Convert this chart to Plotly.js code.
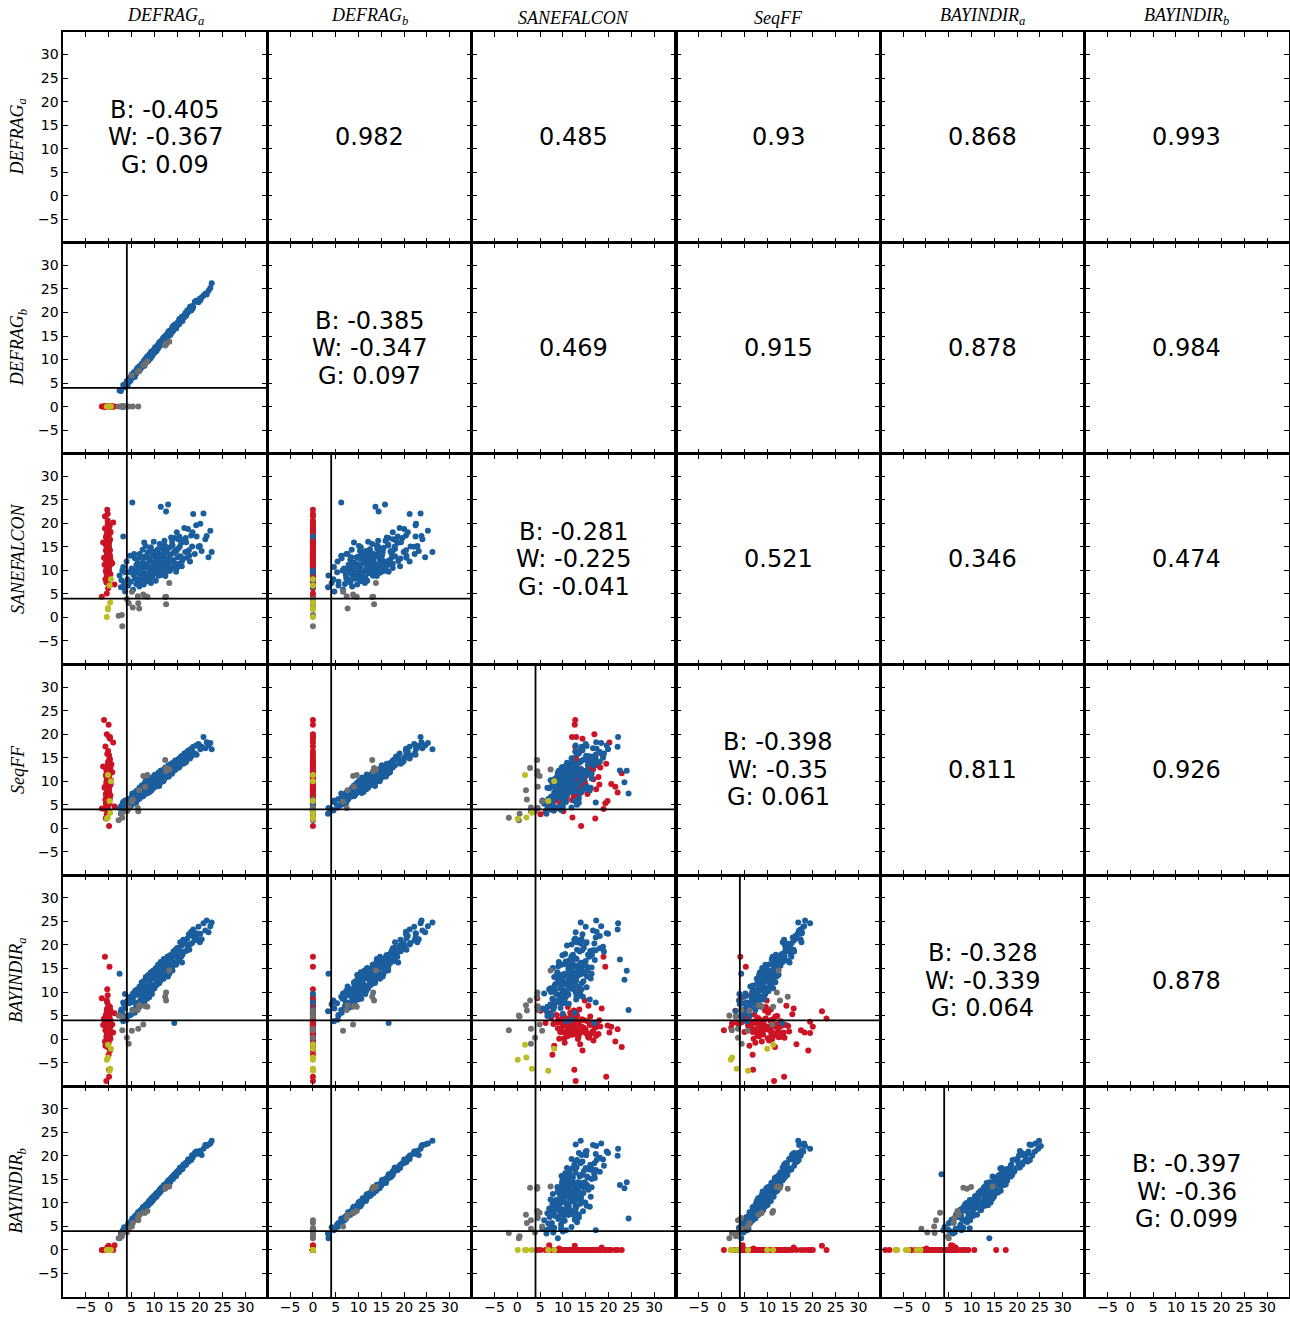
<!DOCTYPE html>
<html>
<head>
<meta charset="utf-8">
<script src="https://cdn.plot.ly/plotly-3.0.1.min.js"></script>
<style>html,body{margin:0;padding:0;background:#fff;}#chart{width:1290px;height:1319px;}</style>
</head>
<body>
<div id="chart"></div>
<script>
// ---------- variable names / labels ----------
const varLabels = ['<i>DEFRAG<sub>a</sub></i>', '<i>DEFRAG<sub>b</sub></i>', '<i>SANEFALCON</i>', '<i>SeqFF</i>', '<i>BAYINDIR<sub>a</sub></i>', '<i>BAYINDIR<sub>b</sub></i>'];
const tickValues = [-5, 0, 5, 10, 15, 20, 25, 30];
const threshold = 4;

// ---------- diagonal and upper-triangle texts ----------
const diagB = ['-0.405', '-0.385', '-0.281', '-0.398', '-0.328', '-0.397'];
const diagW = ['-0.367', '-0.347', '-0.225', '-0.35', '-0.339', '-0.36'];
const diagG = ['0.09', '0.097', '-0.041', '0.061', '0.064', '0.099'];
const corrRow1 = ['0.982', '0.485', '0.93', '0.868', '0.993'];
const corrRow2 = ['0.469', '0.915', '0.878', '0.984'];
const corrRow3 = ['0.521', '0.346', '0.474'];
const corrRow4 = ['0.811', '0.926'];
const corrRow5 = ['0.878'];

// ---------- blue samples ----------
const blueDEFRAGa = [
2.4,2.7,3.2,3.4,3.6,3.95,4.15,4.3,4.55,4.7,
4.85,5.05,5.2,5.35,5.5,5.75,5.8,6.05,6.1,6.25,
6.3,6.45,6.6,6.75,6.8,6.95,7.1,7.25,7.3,7.45,
7.5,7.55,7.7,7.85,7.9,8.05,8.1,8.15,8.3,8.45,
8.5,8.55,8.7,8.85,8.9,8.95,9.1,9.25,9.3,9.4,
9.45,9.6,9.75,9.8,9.9,10.05,10.1,10.2,10.35,10.4,
10.5,10.55,10.7,10.85,10.9,10.95,11.1,11.2,11.35,11.4,
11.45,11.6,11.75,11.8,11.9,12.05,12.1,12.25,12.4,12.45,
12.6,12.75,12.8,12.9,13.05,13.1,13.3,13.45,13.5,13.7,
13.8,13.95,14.1,14.2,14.4,14.55,14.6,14.8,14.95,15.1,
15.2,15.45,15.5,15.7,15.9,16.05,16.2,16.35,16.6,16.8,
17.0,17.25,17.4,17.6,17.85,18.1,18.3,18.55,18.9,19.2,
19.3,19.7,20.1,20.4,20.8,21.2,21.5,21.9,22.3,22.6,
6.9,7.6,8.3,8.9,9.6,10.2,10.9,11.4,12.3,13.2,
5.3,7.9,9.2,9.9,10.6,11.2,11.9,12.6,14.0,15.6,
3.2,3.0,3.6,2.8,3.3,
5.6,6.6,7.3,7.8,8.4,8.8,9.3,9.7,10.3,10.8,
11.1,11.6,12.0,12.5,12.9,13.4,13.9,14.3,14.8,15.3,
6.2,7.0,7.7,8.6,9.0,9.5,10.0,10.6,11.3,11.8,
12.3,13.0,13.6,14.0,15.0,16.1,16.9,17.7,18.4,20.0];
const blueDEFRAGb = [
3.4,3.3,4.6,4.1,4.7,5.4,4.5,5.6,5.3,6.2,
5.6,6.8,6.2,6.6,7.2,6.3,7.3,7.0,7.8,7.8,
8.2,7.7,8.0,8.6,7.6,8.6,8.2,9.0,9.1,8.5,
8.8,9.1,9.7,8.7,9.6,9.2,10.1,10.1,9.5,10.6,
10.1,10.7,9.7,10.6,10.3,11.1,11.1,10.5,11.6,10.9,
11.7,10.8,11.7,11.3,12.1,12.1,11.5,12.6,11.9,12.3,
11.8,12.7,12.3,13.1,13.1,12.5,13.6,13.0,13.3,13.9,
13.7,13.3,14.1,14.1,13.6,14.7,14.0,14.3,15.0,14.0,
14.4,15.3,15.3,14.7,15.8,15.1,15.5,16.1,15.2,16.2,
16.5,16.5,16.0,17.2,16.6,16.9,17.5,16.6,17.5,17.3,
18.0,17.5,18.6,18.0,18.5,19.1,18.2,19.2,19.0,19.9,
19.3,20.5,20.0,20.4,21.2,20.4,21.4,21.2,22.3,22.5,
22.5,22.2,22.6,23.2,23.6,24.0,23.8,24.6,25.2,26.2,
8.1,9.1,10.4,10.0,11.6,11.7,13.2,13.7,14.0,16.0,
6.5,9.9,10.3,11.9,12.2,13.6,14.3,14.3,16.9,17.9,
0,0,0,0,0,
7.3,7.7,9.1,9.0,10.3,10.2,11.4,11.3,12.4,12.5,
13.3,13.4,14.6,14.3,15.1,15.8,15.9,16.9,17.0,17.6,
7.5,8.4,9.3,10.4,10.3,11.5,11.8,12.6,13.0,14.0,
14.3,15.3,15.4,16.5,17.5,18.7,19.6,20.5,20.8,22.9];
const blueSANEFALCON = [
8.9,6.4,10.7,7.3,5.5,11.9,8.1,6.8,9.6,13.1,
7.6,10.4,24.4,5.9,9.0,12.6,8.3,7.1,11.2,9.5,
12.3,8.0,10.1,6.6,13.5,9.2,7.4,11.0,9.9,14.4,
8.6,11.7,7.0,10.5,12.8,9.3,15.2,8.1,10.9,7.7,
11.3,13.8,9.0,7.9,10.6,12.1,8.4,14.9,10.2,9.6,
10.0,8.7,12.9,11.5,16.1,9.4,13.2,10.8,7.8,12.4,
14.0,9.8,11.1,13.6,8.9,12.0,10.4,15.6,11.8,9.1,
23.5,12.5,10.3,14.6,11.2,9.5,13.0,16.3,11.6,8.8,
22.5,13.9,10.7,12.2,24.0,11.4,14.8,9.9,13.3,17.0,
12.0,15.5,10.6,13.7,16.9,11.3,14.2,9.7,18.1,12.8,
14.6,11.4,17.2,13.0,15.8,10.9,16.4,12.5,19.0,13.9,
16.0,12.7,18.8,14.3,11.9,17.4,15.1,22.0,13.5,19.6,
17.2,15.0,19.9,14.1,22.1,16.6,17.3,12.8,18.4,13.9,
11.3,8.2,13.0,9.6,14.1,10.4,12.6,9.0,15.3,11.8,
10.0,12.9,8.9,11.6,13.4,10.1,14.5,11.1,12.2,15.0,
17.2,10.0,9.6,7.9,6.6,
13.5,8.1,10.9,15.9,9.1,12.5,7.3,13.1,10.9,14.5,
8.9,13.3,11.0,15.0,12.4,10.6,16.3,11.9,14.0,16.6,
10.2,12.8,9.4,11.0,14.1,8.5,9.8,12.9,10.0,11.3,
13.6,9.8,11.9,15.3,10.5,12.0,16.9,13.1,18.1,15.2];
const blueSeqFF = [
4.3,3.1,5.6,4.0,5.9,4.4,3.8,6.2,4.9,5.0,
4.6,6.7,7.4,5.2,6.9,5.8,7.6,5.5,7.9,6.3,
8.0,6.1,7.5,8.6,6.3,7.9,6.7,9.1,7.0,8.3,
6.8,9.0,8.5,7.2,9.6,7.6,8.9,10.1,7.4,9.3,
9.9,7.5,8.2,10.3,9.0,7.7,10.6,8.4,9.7,8.0,
8.3,10.8,9.1,10.2,8.6,11.3,9.4,10.7,8.9,11.0,
11.4,9.2,10.9,9.6,11.8,10.1,9.0,11.5,10.4,12.2,
9.8,12.0,10.3,11.6,12.4,10.2,11.9,10.6,12.9,11.1,
12.3,10.9,12.8,11.2,12.2,13.4,11.5,13.0,11.8,13.7,
11.7,13.5,12.1,14.0,13.3,12.4,14.4,12.8,14.1,13.0,
14.6,12.9,14.8,13.4,15.3,13.9,15.2,13.7,15.9,14.3,
14.2,16.3,15.0,16.6,14.8,16.9,15.4,17.3,15.9,17.6,
15.6,17.9,16.8,17.3,19.4,17.0,18.3,17.6,18.1,16.8,
8.1,6.9,9.2,8.0,10.3,9.0,11.2,9.9,12.1,11.0,
6.6,8.8,8.3,10.4,9.4,11.4,10.5,12.5,11.9,14.6,
5.5,4.6,3.9,4.8,4.2,
5.4,7.6,6.9,8.0,8.8,8.2,10.2,9.1,10.9,10.3,
10.6,11.1,10.0,12.2,11.4,12.9,11.6,13.8,12.6,14.0,
6.1,7.9,7.3,9.4,7.8,9.6,10.7,9.3,11.7,10.4,
11.9,11.3,13.1,12.3,13.2,14.9,14.0,15.8,16.2,17.5];
const blueBAYINDIRa = [
13.9,5.9,3.8,7.4,6.5,4.1,8.2,5.0,7.6,9.0,
5.1,8.9,6.2,9.7,7.9,5.6,10.3,7.0,9.4,6.6,
10.6,7.1,9.5,6.9,11.2,8.3,10.0,12.1,7.6,9.0,
8.2,11.9,10.6,7.8,12.5,9.3,11.0,13.2,9.8,8.6,
12.4,9.7,13.6,10.2,8.9,12.8,11.7,14.2,10.4,12.9,
10.3,13.8,11.2,14.6,12.9,10.8,13.4,11.6,15.1,13.0,
14.9,11.5,13.6,15.8,12.1,14.3,11.9,15.2,13.0,16.4,
12.6,15.7,13.4,16.3,14.9,12.8,17.0,13.9,15.6,14.2,
16.9,13.8,15.9,17.5,14.5,16.4,13.9,17.8,15.2,16.8,
15.1,17.9,16.0,18.6,3.4,16.3,18.9,15.8,19.3,17.2,
19.4,16.7,18.9,20.6,17.5,19.9,17.9,21.1,18.6,20.3,
18.7,21.4,19.6,22.3,20.1,22.8,20.4,23.3,21.0,22.5,
21.6,23.9,22.4,21.2,24.6,23.1,25.2,22.7,24.0,24.8,
7.5,11.4,9.1,12.7,10.6,13.9,12.0,15.5,13.3,17.0,
8.6,8.4,12.9,10.8,14.6,12.2,15.9,13.7,17.9,16.6,
7.8,5.4,9.6,6.3,4.9,
9.2,6.9,10.4,8.4,12.9,11.3,10.8,13.7,11.7,12.3,
12.0,14.6,13.5,15.6,14.0,16.5,15.2,17.6,16.2,18.9,
7.7,9.9,8.8,9.9,11.8,9.6,13.1,12.4,13.7,12.9,
15.0,13.3,17.1,14.6,18.1,16.3,20.3,19.0,21.9,20.6];
const blueBAYINDIRb = [
2.5,3.5,4.2,4.8,4.5,4.9,4.7,5.6,5.4,5.9,
5.7,6.2,6.7,6.3,6.6,6.4,7.2,7.0,7.4,7.5,
7.5,8.0,7.5,7.8,7.5,8.4,8.1,8.5,8.6,8.2,
9.0,8.5,8.8,8.5,9.3,9.0,9.4,9.6,9.2,9.7,
9.5,9.8,9.5,10.3,10.0,10.4,10.5,10.1,10.6,11.0,
10.7,10.4,11.2,10.9,11.3,11.4,11.0,11.5,11.9,11.4,
11.3,12.1,11.8,12.2,12.3,11.9,12.4,12.8,12.3,12.6,
13.1,12.8,13.2,13.3,12.9,13.4,13.8,13.3,13.7,13.4,
13.8,14.2,14.3,13.9,14.4,14.8,14.4,14.7,14.4,15.3,
15.3,15.4,15.1,15.6,16.1,15.6,15.9,15.7,16.6,16.4,
16.8,16.5,17.0,17.5,17.1,17.4,17.2,18.1,17.9,18.4,
18.1,18.7,19.2,18.8,19.3,19.1,20.1,20.0,20.6,20.9,
20.4,20.9,20.6,20.2,21.5,22.3,22.1,22.4,22.6,23.2,
8.1,9.1,9.3,10.1,10.4,11.7,12.0,12.8,13.8,14.2,
6.2,9.0,10.0,11.4,11.7,12.6,13.4,13.6,15.4,17.4,
4.2,3.9,4.6,3.7,4.3,
6.9,7.5,8.6,9.2,9.4,10.2,10.7,10.8,11.7,12.1,
12.5,13.0,13.1,13.9,14.3,14.5,15.1,15.7,16.0,16.8,
7.3,8.1,8.6,9.8,10.3,10.6,11.3,11.8,12.4,13.1,
13.6,14.2,14.9,15.6,16.3,17.3,18.4,19.1,19.6,21.0];

// ---------- red samples ----------
const redDEFRAGa = [
-0.3,0.1,-0.6,-0.1,0.2,-0.4,-0.2,0.0,-0.8,0.3,
-0.1,-0.5,0.1,-0.3,0.4,-0.2,-1.0,0.0,-0.4,0.2,
-0.2,0.1,-0.7,-0.1,0.3,-0.3,0.0,-0.5,0.2,-0.2,
0.5,-0.4,-0.1,0.1,-0.6,-0.2,0.2,-0.3,0.0,-1.2,
-0.1,0.3,-0.4,-0.2,0.1,-0.5,0.0,0.4,-0.3,-0.1,
0.2,-0.6,-0.2,0.1,-0.4,0.0,-0.1,0.3,-0.8,-0.2,
0.0,-0.3,0.2,-0.5,-0.1,0.1,-0.2,0.6,-0.4,-0.1,
-0.3,0.1,-0.6,0.0,0.2,-0.2,-1.5,0.1,-0.4,0.3,
-0.1,0.8,-0.3,0.0,-0.2,0.2,-0.5,-0.1,0.1,-0.7,
1.3,-0.2,0.0,-0.4,0.1,-0.1,0.4,-0.3,1.0,-0.2,
-0.2,0.0,-0.5,0.2,-0.1,-0.3,0.1,-0.6,0.3,-0.2,
0.0,-0.4,0.1,-0.1,0.4,-0.3,0.2,-0.2,-0.9,0.0];
const redDEFRAGb = [
0,0,0,0,0,0,0,0,0,0,
0,0,0,0,0,0,0,0,0,0,
0,0,0,0,0,0,0,0,0,0,
0,0,0,0,0,0,0,0,0,0,
0,0,0,0,0,0,0,0,0,0,
0,0,0,0,0,0,0,0,0,0,
0,0,0,0,0,0,0,0,0,0,
0,0,0,0,0,0,0,0,0,0,
0,0,0,0,0,0,0,0,0,0,
0,0,0,0,0,0,0,0,0,0,
0,0,0,0,0,0,0,0,0,0,
0,0,0,0,0,0,0,0,0,0];
const redSANEFALCON = [
12.5,9.8,14.2,11.0,16.3,8.6,13.1,10.4,18.9,12.0,
15.2,7.4,11.8,13.6,9.2,17.5,12.7,10.9,14.8,19.3,
11.3,13.9,8.1,16.0,12.2,10.0,15.6,9.5,13.4,20.6,
11.6,14.5,7.9,12.9,17.1,10.7,13.3,22.9,9.0,15.9,
12.4,11.1,16.7,8.8,14.0,12.8,10.2,18.2,13.7,6.2,
11.9,15.4,9.7,13.0,17.8,12.6,10.6,14.3,21.5,11.4,
13.2,8.4,16.5,12.1,10.3,14.7,19.8,11.7,5.1,13.8,
12.3,15.0,9.9,17.3,11.2,13.5,4.4,16.1,10.8,12.9,
14.1,11.5,18.5,7.7,13.1,12.0,15.8,10.1,19.5,12.7,
7.0,14.6,11.0,16.9,12.5,9.4,18.0,13.3,20.2,22.0,
10.6,13.7,12.2,8.9,15.5,11.4,14.1,9.9,16.6,12.8,
11.7,13.1,10.8,17.0,12.4,14.9,9.3,13.6,11.2,15.7];
const redSeqFF = [
9.5,6.8,11.2,8.1,12.7,5.9,10.3,7.4,4.1,19.4,
12.1,5.2,8.7,10.8,7.0,13.4,23.0,8.2,9.9,5.3,
7.6,10.6,6.1,11.8,9.1,8.4,14.2,4.9,12.6,9.4,
10.2,8.9,3.8,19.4,2.1,6.4,11.4,11.7,7.8,13.1,
6.9,9.7,10.4,4.4,0.5,11.5,5.6,12.9,8.5,3.5,
12.3,7.3,9.0,15.5,10.9,22.0,6.6,19.0,8.8,8.0,
8.6,7.9,14.8,2.3,10.1,11.0,5.8,13.6,3.0,16.4,
10.7,9.2,5.4,8.3,12.0,7.1,4.2,11.3,9.6,14.6,
7.7,11.9,15.8,6.8,9.8,6.0,12.4,3.6,13.7,17.4,
4.6,10.4,13.0,20.0,6.9,5.0,9.3,11.1,18.2,7.6,
8.0,11.6,9.7,6.3,13.3,8.8,10.1,7.2,12.5,9.0,
10.5,12.2,7.8,14.1,9.5,11.0,6.5,10.8,8.6,13.8];
const redBAYINDIRa = [
2.8,1.5,4.2,0.6,3.3,5.1,2.0,-0.8,17.5,3.7,
1.2,4.6,2.5,6.3,0.1,3.0,4.4,1.8,8.2,15.4,
3.5,2.2,-1.4,4.8,1.0,2.9,7.1,3.9,0.4,2.6,
5.6,1.7,3.2,1.3,2.4,9.3,0.8,-1.7,4.1,3.0,
2.1,6.8,-0.3,3.6,1.9,-8.9,4.9,2.7,10.6,3.4,
0.9,3.8,2.3,5.3,1.1,5.9,3.1,-2.4,-0.5,4.5,
2.6,7.8,1.6,3.3,0.2,4.0,2.9,1.4,6.0,-1.1,
3.9,2.0,5.0,0.7,2.5,3.6,8.7,1.2,4.3,2.8,
1.8,3.1,6.5,-3.3,2.2,4.7,0.5,3.3,-8.0,1.9,
5.5,2.4,3.8,2.6,-6.5,1.5,4.0,0.0,1.4,2.1,
3.1,1.2,4.4,2.3,0.5,3.8,2.7,5.2,1.6,3.4,
2.0,4.9,0.9,3.0,6.1,1.4,3.6,2.4,4.0,0.3];
const redBAYINDIRb = [
0,0,0,0,0,0,0,0,0,0,
0,0,0,0,0.3,0,0,0,0,0,
0,0,0,0,0,0,0,0,0,0,
0,0,0,0,0,0,0,0,0,0,
0,0,0,0,0,0,0,0,0,0,
0,0,0,0,0,0.9,0,0,0,0,
0,0,0,0,0,0,0,0,0,0,
0,0,0,0,0,0,0,0,0,0,
0,0,0.5,0,0,0,0,0,0,0,
1.0,0,0,0,0,0,0,0,0,0,
0,0,0,0,0,0,0,0,0,0,
0,0,0,0,0,0,0,0,0,0];

// ---------- gray samples ----------
const grayDEFRAGa = [2.2,2.9,3.0,4.0,4.4,5.1,5.3,6.4,6.5,6.7,7.6,8.0,8.5,12.6,12.6,13.3,12.4];
const grayDEFRAGb = [0,0,0,0,0,6.6,0,7.4,0,7.6,8.8,9.0,9.6,13.2,13.4,13.8,13.0];
const graySANEFALCON = [0.35,0.5,-1.85,3.9,3.0,5.45,2.1,4.5,3.0,1.9,4.9,4.5,4.4,4.4,2.8,7.3,4.35];
const graySeqFF = [1.7,3.1,2.25,3.6,4.4,5.7,6.1,4.3,3.6,8.1,11.1,8.8,11.3,12.1,12.8,12.5,14.5];
const grayBAYINDIRa = [5.0,4.8,1.9,0.3,-1.0,1.8,6.1,6.2,2.2,7.2,3.1,7.0,6.9,9.9,8.2,14.6,9.0];
const grayBAYINDIRb = [2.5,2.9,3.6,3.7,4.5,5.0,5.75,6.8,6.3,7.5,7.9,7.9,8.3,13.4,13.2,13.5,13.0];

// ---------- yellow samples ----------
const yellowDEFRAGa = [-0.15,0.5,-0.15,-0.4,0.35,0.2];
const yellowDEFRAGb = [0,0,0,0,0,0];
const yellowSANEFALCON = [1.7,8.1,2.0,0.1,3.2,6.8];
const yellowSeqFF = [11.3,10.0,2.3,2.0,3.3,5.8];
const yellowBAYINDIRa = [-1.2,-2.05,-3.9,-4.4,-6.3,-6.7];
const yellowBAYINDIRb = [0,0,0,0,0,0];

// ---------- build ----------
const groups = [
  {color: '#cc1424', cols: [redDEFRAGa, redDEFRAGb, redSANEFALCON, redSeqFF, redBAYINDIRa, redBAYINDIRb]},
  {color: '#1b5e9e', cols: [blueDEFRAGa, blueDEFRAGb, blueSANEFALCON, blueSeqFF, blueBAYINDIRa, blueBAYINDIRb]},
  {color: '#6f6f6f', cols: [grayDEFRAGa, grayDEFRAGb, graySANEFALCON, graySeqFF, grayBAYINDIRa, grayBAYINDIRb]},
  {color: '#bcbd22', cols: [yellowDEFRAGa, yellowDEFRAGb, yellowSANEFALCON, yellowSeqFF, yellowBAYINDIRa, yellowBAYINDIRb]}
];
const upperRows = [corrRow1, corrRow2, corrRow3, corrRow4, corrRow5];

const N = 6;
const axisRange = [-10, 34.8];
const textFont = {family: 'DejaVu Sans', size: 24, color: 'black'};
const labelFont = {family: 'Liberation Serif', size: 18, color: 'black'};

const layout = {
  width: 1290, height: 1319,
  margin: {l: 63, r: 1, t: 32, b: 22},
  paper_bgcolor: 'white', plot_bgcolor: 'white',
  showlegend: false,
  annotations: [], shapes: []
};
const common = {
  showgrid: false, zeroline: false, showline: true, mirror: 'ticks',
  linecolor: 'black', linewidth: 1.6,
  ticks: 'inside', ticklen: 5, tickwidth: 1, tickcolor: 'black',
  tickmode: 'array', tickvals: tickValues,
  tickfont: {family: 'DejaVu Sans', size: 14, color: 'black'},
  range: axisRange, fixedrange: true
};
const traces = [];
function axId(k) { return k === 1 ? '' : String(k); }

for (let r = 0; r < N; r++) {
  for (let c = 0; c < N; c++) {
    const k = r * N + c + 1, id = axId(k);
    layout['xaxis' + id] = Object.assign({}, common, {
      domain: [c / N, (c + 1) / N], anchor: 'y' + id, showticklabels: r === N - 1,
      ticklabelstandoff: -3
    });
    layout['yaxis' + id] = Object.assign({}, common, {
      domain: [1 - (r + 1) / N, 1 - r / N], anchor: 'x' + id, showticklabels: c === 0
    });
    if (c < r) {
      groups.forEach(g => {
        traces.push({
          type: 'scatter', mode: 'markers',
          x: g.cols[c], y: g.cols[r],
          xaxis: 'x' + id, yaxis: 'y' + id,
          marker: {color: g.color, size: 6, line: {width: 0}},
          hoverinfo: 'skip', showlegend: false
        });
      });
      layout.shapes.push({type: 'line', xref: 'x' + id, yref: 'y' + id + ' domain',
        x0: threshold, x1: threshold, y0: 0, y1: 1, line: {color: 'black', width: 1.8}});
      layout.shapes.push({type: 'line', xref: 'x' + id + ' domain', yref: 'y' + id,
        x0: 0, x1: 1, y0: threshold, y1: threshold, line: {color: 'black', width: 1.8}});
    } else {
      traces.push({type: 'scatter', mode: 'markers', x: [], y: [],
        xaxis: 'x' + id, yaxis: 'y' + id, hoverinfo: 'skip', showlegend: false});
      if (c === r) {
        const lines = ['B: ' + diagB[r], 'W: ' + diagW[r], 'G: ' + diagG[r]];
        lines.forEach((t, i) => {
          layout.annotations.push({xref: 'x' + id + ' domain', yref: 'y' + id + ' domain',
            x: 0.5, y: 0.5, yshift: 27.5 - 27.5 * i, text: t, showarrow: false,
            xanchor: 'center', yanchor: 'middle', font: textFont});
        });
      } else {
        layout.annotations.push({xref: 'x' + id + ' domain', yref: 'y' + id + ' domain',
          x: 0.5, y: 0.5, text: upperRows[r][c - r - 1], showarrow: false,
          xanchor: 'center', yanchor: 'middle', font: textFont});
      }
    }
  }
}
for (let i = 0; i < N; i++) {
  layout.annotations.push({xref: 'paper', yref: 'paper', x: (i + 0.5) / N, y: 1,
    yanchor: 'bottom', xanchor: 'center', yshift: 2, text: varLabels[i], showarrow: false, font: labelFont});
  layout.annotations.push({xref: 'paper', yref: 'paper', x: 0, y: 1 - (i + 0.5) / N,
    xshift: -45, textangle: -90, xanchor: 'center', yanchor: 'middle',
    text: varLabels[i], showarrow: false, font: labelFont});
}

Plotly.newPlot('chart', traces, layout, {displayModeBar: false, staticPlot: true});
</script>
</body>
</html>
